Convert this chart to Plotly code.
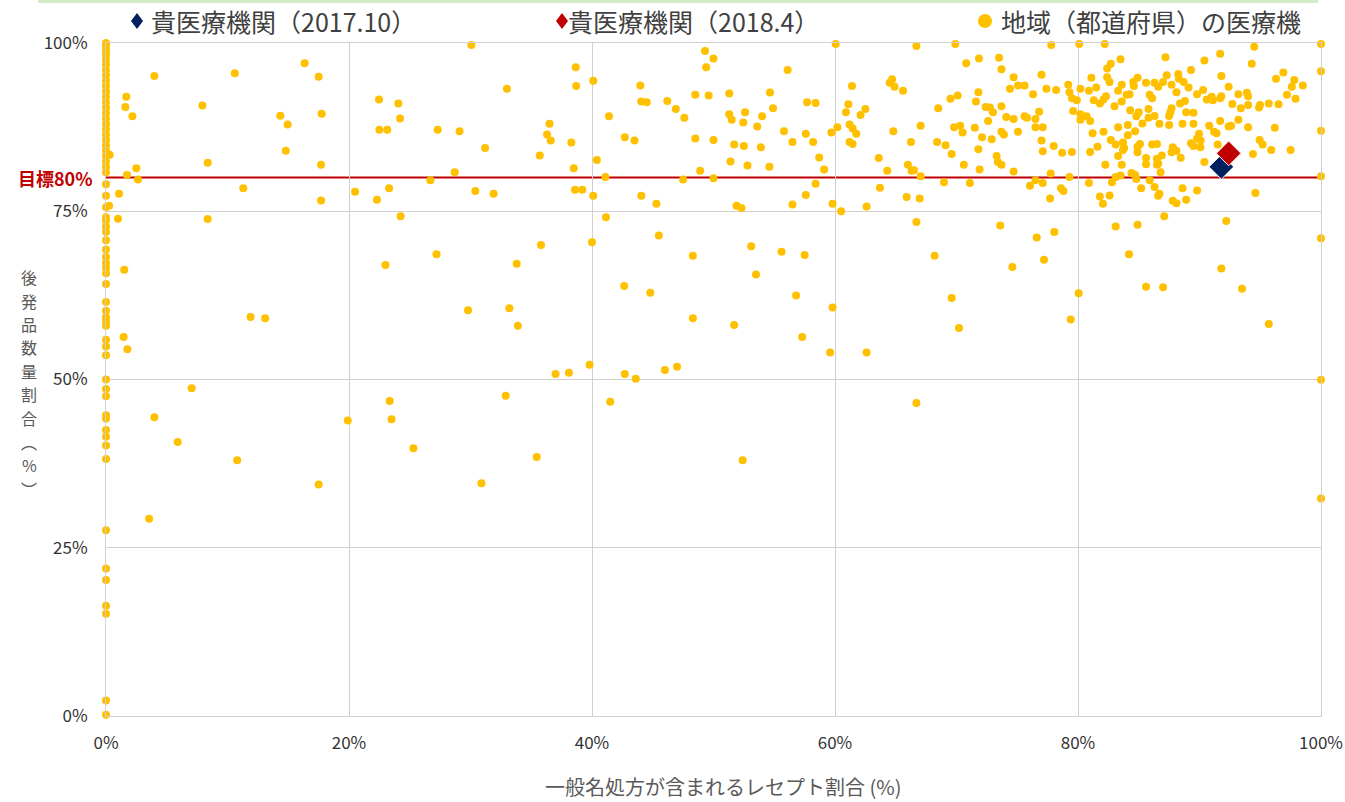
import plotly.graph_objects as go

# ---- Data (percent) ----
# Regional medical institutions: generic-name prescription ratio (x) vs generic volume ratio (y)
axis_y = [100, 99.6, 99.0, 98.3, 97.5, 96.8, 96.0, 95.2, 94.4, 93.6, 92.8, 92.0, 91.2, 90.4,
          89.6, 88.8, 88.0, 87.2, 86.4, 85.6, 84.8, 84.0, 83.2, 82.4, 81.6, 80.8,
          79.0, 77.3, 75.6, 74.1, 73.6, 72.7, 71.9, 70.7, 69.3, 68.2, 67.3,
          66.6, 65.8, 64.2, 61.5, 60.2, 59.2, 58.7, 58.0, 55.9, 54.9, 53.6, 50.0, 48.6,
          47.5, 44.7, 44.2, 42.5, 41.5, 40.2, 38.2, 27.6, 21.9, 20.2, 16.4, 15.2, 2.3, 0.2]

region_pts = [
    (0.3, 83.4), (0.25, 75.8),
    (3.98, 95.1), (10.6, 95.5), (16.35, 97.0), (17.5, 95.0), (1.67, 92.0), (1.59, 90.5), (2.17, 89.1),
    (7.93, 90.7), (14.35, 89.2), (14.95, 87.9), (17.75, 89.5), (22.47, 91.6), (24.06, 91.0), (24.2, 88.8),
    (22.5, 87.1), (23.15, 87.1), (14.8, 84.0), (8.37, 82.2), (2.5, 81.4), (1.73, 80.4), (2.63, 79.7),
    (11.3, 78.4), (17.7, 81.9), (1.07, 77.6), (17.7, 76.6), (20.5, 77.9), (22.3, 76.7), (23.3, 78.4),
    (24.25, 74.25), (0.99, 73.9), (8.37, 73.85), (23.0, 67.0), (1.5, 66.3),
    (30.07, 99.7), (38.66, 96.4), (38.7, 93.6), (40.1, 94.4), (33.0, 93.2), (43.98, 93.7), (44.06, 91.3),
    (44.5, 91.2), (46.2, 91.4), (46.9, 90.2), (47.6, 88.9), (48.5, 92.3), (49.6, 92.2), (49.3, 98.8),
    (49.4, 96.4), (50.0, 97.7), (41.4, 89.1), (27.3, 87.1), (29.1, 86.9), (31.2, 84.4), (36.5, 88.0),
    (36.3, 86.4), (36.6, 85.5), (38.3, 85.2), (35.7, 83.3), (40.4, 82.6), (42.7, 86.0), (43.5, 85.5),
    (48.5, 85.8), (50.0, 85.6), (28.7, 80.8), (26.7, 79.6), (38.5, 81.4), (41.1, 80.1), (47.5, 79.7),
    (48.9, 81.0), (50.0, 79.9), (30.4, 78.0), (31.9, 77.6), (38.6, 78.2), (39.2, 78.2), (40.1, 77.3),
    (44.06, 77.3), (45.3, 76.1), (41.15, 74.1), (45.5, 71.4), (27.2, 68.6), (35.8, 70.0), (40.0, 70.4),
    (48.3, 68.4), (33.8, 67.2),
    (60.06, 99.85), (66.7, 99.55), (69.9, 99.85), (56.1, 96.0), (70.8, 97.0), (71.85, 97.7), (73.5, 97.8),
    (73.7, 96.1), (74.7, 94.9), (74.4, 93.2), (75.06, 93.7), (75.6, 93.7), (51.3, 92.5), (54.65, 92.65),
    (51.3, 89.4), (51.5, 88.6), (52.6, 89.7), (52.45, 88.2), (54.0, 89.1), (54.9, 90.3), (53.6, 87.6),
    (57.7, 91.2), (58.4, 91.1), (55.8, 86.9), (57.6, 86.5), (56.5, 85.3), (58.2, 85.3), (51.7, 84.9),
    (52.5, 84.7), (53.9, 84.5), (51.4, 82.4), (52.8, 81.8), (54.6, 81.6), (58.7, 83.0), (59.1, 81.2),
    (59.7, 86.7), (60.2, 87.5), (58.4, 79.1), (57.6, 77.4), (56.5, 76.0), (51.9, 75.8), (52.3, 75.5),
    (59.8, 76.1), (60.5, 75.0), (62.6, 75.7), (53.1, 69.8), (55.6, 69.0), (57.5, 68.5), (66.7, 73.4),
    (68.2, 68.4), (73.6, 72.9), (74.6, 66.7), (61.4, 93.6), (64.7, 94.6), (64.5, 94.1), (64.9, 93.5),
    (65.6, 92.9), (61.1, 90.9), (60.9, 89.7), (62.5, 90.2), (62.1, 89.3), (61.2, 87.9), (61.45, 87.3),
    (61.75, 86.5), (61.2, 85.3), (61.45, 85.0), (64.8, 86.9), (67.05, 87.7), (66.25, 85.3), (63.6, 82.9),
    (64.3, 81.0), (66.0, 81.9), (66.3, 81.0), (66.5, 81.1), (67.05, 80.2), (63.7, 78.5), (65.9, 77.1),
    (66.97, 76.9), (68.97, 79.3), (71.1, 79.2), (68.5, 90.3), (69.5, 91.7), (70.1, 92.2), (68.4, 85.3),
    (69.1, 84.8), (69.6, 83.5), (70.6, 81.9), (69.8, 87.5), (70.3, 87.7), (70.5, 86.7), (71.5, 87.4),
    (71.8, 92.7), (71.6, 91.3), (72.4, 90.5), (72.75, 90.4), (73.0, 89.7), (72.6, 88.4), (72.1, 86.0),
    (72.9, 85.7), (71.8, 84.2), (73.7, 90.6), (74.1, 89.0), (74.7, 88.7), (75.6, 89.1), (73.7, 86.8),
    (73.9, 86.4), (75.06, 86.8), (73.3, 83.2), (73.4, 82.3), (73.7, 81.9), (71.9, 81.2), (74.7, 80.9),
    (77.8, 99.7), (80.1, 99.85), (82.2, 99.85), (94.5, 99.45), (100, 99.85), (100, 95.8), (100, 86.96),
    (100, 80.2), (100, 71.0), (91.7, 98.4), (87.2, 97.9), (90.4, 97.4), (94.3, 96.9), (83.5, 97.6),
    (82.7, 96.9), (82.4, 96.2), (89.3, 96.0), (91.8, 95.1), (96.3, 94.7), (96.9, 95.6), (97.8, 94.5),
    (97.6, 93.5), (98.5, 93.7), (77.0, 95.3), (76.3, 92.4), (77.4, 93.2), (78.2, 93.0), (79.2, 93.8),
    (79.3, 92.7), (79.5, 91.8), (79.9, 91.5), (80.2, 93.2), (79.6, 89.9), (80.2, 89.4), (80.7, 89.1),
    (80.2, 88.6), (81.0, 88.4), (81.1, 94.85), (80.9, 92.9), (81.5, 93.4), (81.3, 91.5), (81.8, 91.0),
    (82.3, 92.1), (82.1, 91.6), (82.4, 94.9), (82.6, 94.2), (83.3, 92.9), (83.6, 93.8), (83.0, 90.6),
    (83.6, 91.3), (84.0, 92.3), (84.25, 92.4), (84.55, 94.2), (84.9, 94.85), (84.6, 93.6), (85.6, 94.1),
    (85.9, 92.3), (86.1, 91.8), (86.3, 94.1), (86.6, 93.5), (87.0, 94.2), (87.3, 95.2), (87.7, 93.8),
    (88.25, 95.4), (88.3, 94.7), (88.7, 94.2), (89.1, 93.4), (88.1, 92.7), (88.4, 91.0), (88.8, 91.4),
    (89.8, 92.4), (90.3, 93.0), (90.6, 91.6), (91.1, 91.5), (91.0, 92.0), (91.7, 91.8), (91.8, 92.1),
    (92.4, 93.5), (92.7, 90.95), (93.2, 92.4), (93.9, 92.6), (94.0, 92.1), (93.4, 90.3), (94.0, 90.8),
    (94.9, 90.4), (94.98, 90.8), (95.7, 91.0), (96.5, 90.9), (97.2, 92.3), (97.9, 91.7), (94.0, 87.5),
    (96.2, 87.4), (94.95, 85.6), (95.2, 84.9), (95.9, 84.1), (97.5, 84.1), (94.4, 83.5), (94.6, 77.7),
    (92.2, 73.55), (91.8, 66.5), (87.1, 74.25), (83.1, 72.75), (84.9, 73.0), (84.2, 68.6), (76.6, 71.1),
    (78.05, 71.9), (77.2, 67.8), (75.8, 88.9), (76.5, 88.7), (76.8, 89.8), (76.5, 87.5), (77.1, 87.5),
    (77.0, 85.5), (77.1, 83.9), (78.0, 84.7), (78.7, 83.7), (79.5, 83.8), (77.75, 80.6), (79.3, 80.1),
    (76.5, 79.6), (76.05, 78.8), (77.1, 79.2), (78.6, 78.4), (78.8, 78.0), (77.7, 76.9), (81.0, 83.8),
    (81.6, 84.6), (81.2, 86.6), (82.1, 86.8), (83.3, 87.5), (84.1, 87.8), (84.1, 86.3), (84.7, 86.9),
    (85.3, 88.05), (85.0, 89.7), (84.8, 89.1), (85.8, 88.9), (86.3, 89.15), (85.8, 90.2), (84.3, 90.0),
    (86.7, 88.0), (87.5, 87.8), (88.6, 88.0), (89.5, 88.0), (87.5, 89.15), (87.7, 90.3), (87.6, 89.7),
    (88.9, 89.7), (89.5, 89.65), (90.8, 87.7), (91.7, 88.4), (92.4, 87.6), (92.6, 87.7), (93.2, 88.6),
    (91.2, 86.8), (91.4, 86.6), (82.7, 85.6), (83.1, 84.9), (83.7, 85.2), (83.7, 84.1), (83.8, 84.4),
    (84.9, 84.6), (85.1, 85.0), (84.9, 83.75), (86.1, 84.9), (86.5, 85.0), (87.8, 84.5), (88.1, 84.0),
    (87.7, 83.75), (88.45, 82.95), (89.3, 85.1), (89.5, 84.7), (89.96, 86.5), (90.07, 84.5), (89.8, 85.8),
    (90.1, 85.5), (91.5, 84.9), (83.3, 83.2), (83.6, 81.9), (82.25, 81.9), (85.6, 82.9), (85.6, 82.0),
    (86.5, 82.8), (86.6, 82.1), (86.9, 83.3), (86.5, 81.9), (86.8, 80.8), (90.4, 82.3), (84.4, 80.7),
    (84.7, 80.4), (83.1, 80.1), (83.5, 80.3), (82.8, 79.3), (84.8, 79.8), (85.9, 79.6), (85.2, 78.4),
    (86.3, 78.6), (86.6, 77.3), (86.7, 77.6), (88.6, 78.4), (89.8, 78.1), (88.9, 76.7), (87.8, 76.55),
    (88.1, 76.2), (82.6, 77.35), (81.8, 77.2), (82.05, 76.1), (80.9, 79.2),
    (11.9, 59.3), (13.1, 59.1), (1.45, 56.3), (1.76, 54.5), (7.05, 48.7), (3.98, 44.4), (5.9, 40.7),
    (10.8, 38.0), (17.5, 34.4), (19.9, 43.9), (23.35, 46.8), (23.5, 44.1),
    (29.8, 60.3), (33.2, 60.6), (33.9, 58.0), (42.65, 63.9), (44.8, 62.9), (48.3, 59.1), (39.8, 52.2),
    (37.0, 50.8), (38.1, 51.0), (42.7, 50.8), (43.6, 50.1), (46.0, 51.4), (47.0, 51.9), (32.9, 47.6),
    (41.5, 46.7), (25.3, 39.8), (35.45, 38.5), (30.9, 34.6),
    (53.5, 65.6), (56.8, 62.5), (59.8, 60.7), (51.7, 58.1), (57.3, 56.3), (59.6, 54.0), (62.6, 54.0),
    (69.6, 62.1), (70.2, 57.65), (66.7, 46.5), (52.4, 38.0),
    (85.6, 63.8), (87.0, 63.7), (93.5, 63.5), (80.05, 62.8), (79.4, 58.9), (95.7, 58.25), (100, 49.95),
    (100, 32.3), (3.55, 29.3),
]

region_x = [0.0 for _ in axis_y] + [p[0] for p in region_pts]
region_y = list(axis_y) + [p[1] for p in region_pts]

own_2017_x = [91.8]
own_2017_y = [81.6]
own_2018_x = [92.4]
own_2018_y = [83.6]

target = 80
x_ticks = [0, 20, 40, 60, 80, 100]
y_ticks = [0, 25, 50, 75, 100]

names = ["貴医療機関（2017.10）", "貴医療機関（2018.4）", "地域（都道府県）の医療機"]
colors = ["#002060", "#C00000", "#FFC000"]
ytitle_chars = ["後", "発", "品", "数", "量", "割", "合", "︵", "%", "︶"]

FONT = "Noto Sans CJK JP, Noto Sans, sans-serif"

FIG_W, FIG_H = 1345, 802
# plot area in page pixels: 106..1321 x 43..716
SL, ST, SR, SB = 106, 43, 1321, 716
PW, PH = SR - SL, SB - ST

def px(xs):
    return (xs - SL) / PW

def py(ys):
    return (SB - ys) / PH

fig = go.Figure()
fig.add_trace(go.Scatter(
    x=region_x, y=region_y, mode="markers", name=names[2],
    marker=dict(color=colors[2], size=8, line=dict(width=0)),
    cliponaxis=False, showlegend=False,
))
fig.add_trace(go.Scatter(
    x=own_2017_x, y=own_2017_y, mode="markers", name=names[0],
    marker=dict(color=colors[0], size=19, symbol="diamond", line=dict(color="white", width=1)),
    cliponaxis=False, showlegend=False,
))
fig.add_trace(go.Scatter(
    x=own_2018_x, y=own_2018_y, mode="markers", name=names[1],
    marker=dict(color=colors[1], size=19, symbol="diamond", line=dict(color="white", width=1)),
    cliponaxis=False, showlegend=False,
))

# target line
fig.add_shape(type="line", xref="paper", x0=0, x1=1, yref="y", y0=target, y1=target,
              line=dict(color="#C00000", width=2), layer="below")
fig.add_annotation(xref="paper", x=0, yref="y", y=target, text="<b>目標80%</b>",
                   showarrow=False, xanchor="right", yanchor="middle", xshift=-11,
                   font=dict(family=FONT, size=18, color="#C00000"))

# legend drawn at top (symbols + labels)
leg_sym_x = [137, 562, 985]
leg_txt_x = [149, 566, 999]
leg_y = 21
for i in range(3):
    if i < 2:
        fig.add_shape(type="path", xref="paper", yref="paper", xsizemode="pixel", ysizemode="pixel",
                      xanchor=px(leg_sym_x[i]), yanchor=py(leg_y),
                      path="M 0 8 L 6 0 L 0 -8 L -6 0 Z", fillcolor=colors[i], line=dict(width=0))
    else:
        fig.add_shape(type="circle", xref="paper", yref="paper", xsizemode="pixel", ysizemode="pixel",
                      xanchor=px(leg_sym_x[i]), yanchor=py(leg_y), x0=-7, x1=7, y0=-7, y1=7,
                      fillcolor=colors[i], line=dict(width=0))
    fig.add_annotation(xref="paper", yref="paper", x=px(leg_txt_x[i]), y=py(leg_y), text=names[i],
                       showarrow=False, xanchor="left", yanchor="middle",
                       font=dict(family=FONT, size=25, color="#404040"))

# y axis title stacked vertically (one annotation per character)
for i, ch in enumerate(ytitle_chars):
    fig.add_annotation(xref="paper", yref="paper", x=px(29), y=py(277 + 23.5 * i), text=ch,
                       showarrow=False, xanchor="center", yanchor="middle",
                       font=dict(family=FONT, size=16, color="#595959"))

# x axis title
fig.add_annotation(xref="paper", yref="paper", x=px(723), y=py(786),
                   text="一般名処方が含まれるレセプト割合 (%)", showarrow=False,
                   xanchor="center", yanchor="middle",
                   font=dict(family=FONT, size=20, color="#595959"))

# top light green border remnant
fig.add_shape(type="line", xref="paper", yref="paper", x0=px(38), x1=px(1318), y0=py(1.5), y1=py(1.5),
              line=dict(color="#d4eac4", width=3))

grid = "#d0d0d0"
fig.update_layout(
    width=FIG_W, height=FIG_H,
    margin=dict(l=SL, r=FIG_W - SR, t=ST, b=FIG_H - SB, pad=0, autoexpand=False),
    paper_bgcolor="white", plot_bgcolor="white",
    font=dict(family=FONT, color="#404040"),
    showlegend=False,
    xaxis=dict(range=[0, 100], tickvals=x_ticks, ticktext=[f"{v}%" for v in x_ticks],
               automargin=False,
               showgrid=True, gridcolor=grid, gridwidth=1, zeroline=False,
               showline=True, linecolor=grid, mirror=True, ticks="", ticklabelstandoff=12,
               tickfont=dict(family=FONT, size=17, color="#333333")),
    yaxis=dict(range=[0, 100], tickvals=y_ticks, ticktext=[f"{v}%" for v in y_ticks],
               automargin=False,
               showgrid=True, gridcolor=grid, gridwidth=1, zeroline=False,
               showline=True, linecolor=grid, mirror=True, ticks="", ticklabelstandoff=14,
               tickfont=dict(family=FONT, size=17, color="#333333")),
)

fig.write_html("out.html", config={"displayModeBar": False},
               post_script="document.body.style.margin='0';document.body.style.overflow='hidden';")
